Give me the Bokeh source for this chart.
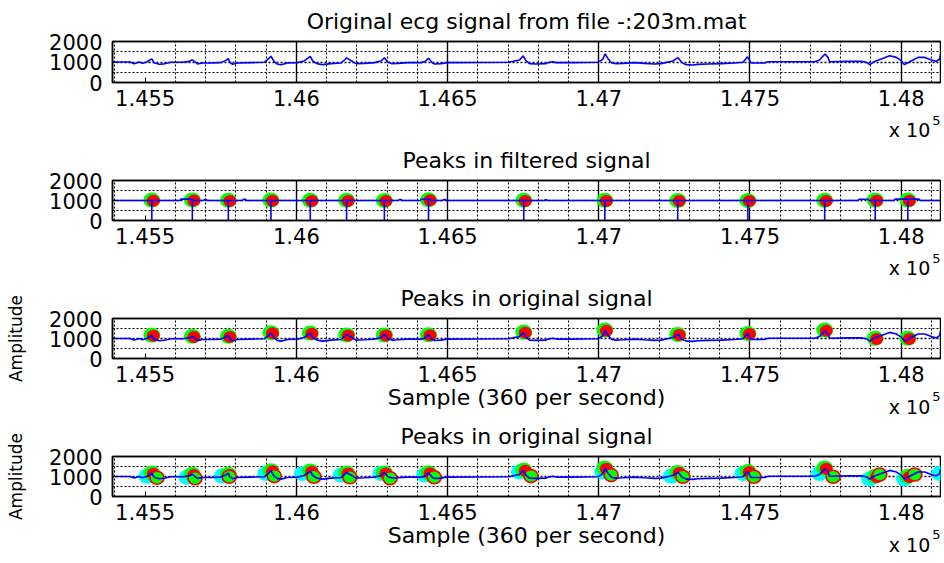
from bokeh.plotting import figure
from bokeh.layouts import column
from bokeh.models import Range1d, FixedTicker, Grid, LinearAxis
from bokeh.embed import file_html
from bokeh.resources import INLINE

# ---------------- data ----------------
x_ticks = [145500, 146000, 146500, 147000, 147500, 148000]
x_tick_labels = ["1.455", "1.46", "1.465", "1.47", "1.475", "1.48"]
y_ticks = [0, 1000, 2000]
y_tick_labels = ["0", "1000", "2000"]
y_minor = [500, 1500]
x_limits = (145392, 148130)
y_limits = (0, 2000)

titles = ["Original ecg signal from file -:203m.mat",
          "Peaks in filtered signal",
          "Peaks in original signal",
          "Peaks in original signal"]
x_label = "Sample (360 per second)"
y_label = "Amplitude"
exp_base = "x 10"
exp_power = "5"

# original ECG signal (sample, amplitude)
ecg_points = [
    (145392, 1000), (145450, 1000), (145464, 920), (145480, 1000), (145491, 940),
    (145505, 1000), (145522, 1150), (145530, 960), (145546, 890), (145563, 910),
    (145585, 985), (145624, 985), (145646, 1030), (145656, 1110), (145673, 905),
    (145690, 950), (145717, 950), (145750, 970), (145767, 1080), (145775, 1170),
    (145779, 1000), (145789, 890), (145806, 950), (145850, 970), (145894, 985),
    (145908, 1160), (145916, 1280), (145925, 1050), (145936, 905), (145949, 870),
    (145971, 950), (146004, 970), (146026, 1050), (146046, 1270), (146054, 1050),
    (146068, 920), (146087, 870), (146114, 920), (146148, 950), (146160, 1110),
    (146166, 1200), (146183, 1050), (146197, 920), (146225, 935), (146258, 970),
    (146280, 1050), (146291, 1210), (146302, 1000), (146316, 920), (146335, 935),
    (146368, 970), (146412, 970), (146425, 1020), (146437, 1180), (146450, 950),
    (146457, 905), (146478, 920), (146492, 955), (146500, 970), (146700, 985),
    (146738, 1100), (146750, 1300), (146760, 1050), (146771, 920), (146793, 905),
    (146826, 920), (146832, 970), (146848, 1015), (146859, 970), (146909, 970),
    (146997, 985), (147013, 1130), (147021, 1400), (147032, 1130), (147043, 950),
    (147058, 920), (147080, 935), (147118, 970), (147151, 935), (147184, 905),
    (147206, 920), (147245, 1050), (147262, 1210), (147275, 970), (147289, 870),
    (147311, 855), (147328, 885), (147361, 905), (147405, 920), (147449, 950),
    (147477, 985), (147492, 1250), (147499, 1065), (147504, 950), (147548, 950),
    (147560, 1015), (147714, 1015), (147730, 1100), (147748, 1390), (147758, 1225),
    (147763, 1015), (147824, 1030), (147868, 1030), (147885, 985), (147896, 870),
    (147912, 1030), (147934, 1145), (147962, 1305), (147984, 1225), (148000, 1065),
    (148011, 870), (148028, 1015), (148056, 1225), (148078, 1225), (148100, 1095),
    (148116, 1030), (148127, 1145), (148130, 1350),
]

# filtered signal (sample, amplitude)
filt_points = [
    (145392, 1000), (145615, 1000), (145618, 1070), (145655, 1070), (145658, 1000),
    (145693, 1000), (145696, 1050), (145702, 1050), (145705, 1000), (145822, 1000),
    (145825, 1060), (145832, 1060), (145835, 1000), (146338, 1000), (146341, 1050),
    (146347, 1050), (146350, 1000), (146410, 1000), (146413, 1060), (146443, 1060),
    (146446, 1000), (146484, 1000), (146487, 1050), (146493, 1050), (146496, 1000),
    (146821, 1000), (146823, 1040), (146828, 1040), (146830, 1000), (147858, 1000),
    (147861, 1060), (147891, 1060), (147894, 1000), (147977, 1000), (147980, 1070),
    (148059, 1070), (148062, 1000), (148130, 1000),
]

# detected R peaks
r_x = [145522, 145656, 145775, 145916, 146046, 146166, 146291, 146437,
       146752, 147020, 147261, 147493, 147747, 147914, 148022]
r_filt_y = [1020, 1030, 1010, 1020, 1010, 1010, 1000, 1040,
            1010, 1010, 1000, 1000, 1010, 1020, 1020]
r_orig_y = [1170, 1110, 1110, 1290, 1270, 1180, 1180, 1190,
            1320, 1420, 1200, 1250, 1420, 1010, 1010]
# Q points (cyan) and S points (green) of the last panel
q_x = [145506, 145638, 145755, 145899, 146020, 146148, 146280, 146424,
       146738, 147013, 147240, 147477, 147730, 147896, 148011, 148127]
q_y = [1020, 960, 1020, 1150, 1150, 1070, 1150, 1080,
       1230, 1230, 1020, 1150, 1150, 880, 880, 1150]
s_x = [145539, 145665, 145778, 145927, 146058, 146177, 146310, 146456,
       146776, 147041, 147278, 147513, 147775, 147929, 148045]
s_y = [940, 915, 990, 1020, 990, 960, 915, 960,
       1020, 1070, 990, 990, 990, 1100, 1100]

ecg_x = [a for a, b in ecg_points]
ecg_y = [b for a, b in ecg_points]
filt_x = [a for a, b in filt_points]
filt_y = [b for a, b in filt_points]

# ---------------- styling / layout ----------------
FONT = "DejaVu Sans"
FW, FH = 828, 41
BL, BR, BB = 112, 1, 62
BLUE = "#0000ff"
RED = "#ff0000"
GREEN = "#00ff00"
CYAN = "#00ffff"

minor_x = [v for v in range(145400, 148200, 100) if v % 500 != 0]
major_grid_x = [t for t in x_ticks if t != x_ticks[0]]
# horizontal anchors (in frame pixels) of texts placed under the frame
XLABEL_POS = FW / 2
EXP_BASE_POS = 797
EXP_POW_POS = 824


def label_axis(text, pos, size, standoff):
    ax = LinearAxis(x_range_name="px", ticker=FixedTicker(ticks=[pos]),
                    major_label_overrides={pos: text},
                    major_label_standoff=standoff, major_tick_in=0, major_tick_out=0,
                    major_tick_line_color=None, minor_tick_line_color=None,
                    axis_line_color=None,
                    major_label_text_font=FONT, major_label_text_font_size=size,
                    major_label_text_color="black")
    return ax


def make_fig(title, bt, with_labels):
    p = figure(width=BL + FW + BR, height=bt + FH + BB, output_backend="svg",
               toolbar_location=None, tools="",
               x_range=Range1d(*x_limits), y_range=Range1d(*y_limits),
               min_border_left=BL, min_border_right=BR,
               min_border_top=bt, min_border_bottom=BB)
    p.extra_x_ranges = {"px": Range1d(0, FW)}
    p.background_fill_color = "white"
    p.border_fill_color = "white"
    p.outline_line_color = "black"
    p.outline_line_width = 1.5

    xax = p.xaxis[0]
    yax = p.yaxis[0]
    xax.ticker = FixedTicker(ticks=x_ticks, minor_ticks=minor_x)
    xax.major_label_overrides = {t: l for t, l in zip(x_ticks, x_tick_labels)}
    yax.ticker = FixedTicker(ticks=y_ticks, minor_ticks=y_minor)
    yax.major_label_overrides = {t: l for t, l in zip(y_ticks, y_tick_labels)}
    for ax in (xax, yax):
        ax.major_tick_in = 5
        ax.major_tick_out = 0
        ax.minor_tick_line_color = None
        ax.axis_line_width = 1.5
        ax.axis_line_color = "black"
        ax.major_tick_line_color = "black"
        ax.major_label_text_font = FONT
        ax.major_label_text_font_size = "21px"
        ax.major_label_text_color = "black"
        ax.axis_label_text_font = FONT
        ax.axis_label_text_font_style = "normal"
        ax.axis_label_text_color = "black"
    xax.major_label_standoff = 3
    yax.major_label_standoff = 6

    # title as the label of a tick-less axis above the frame
    top = LinearAxis(ticker=FixedTicker(ticks=[]), axis_label=title,
                     axis_label_standoff=8, axis_label_text_font=FONT,
                     axis_label_text_font_size="22px", axis_label_text_font_style="normal",
                     axis_label_text_color="black", axis_line_width=1.5,
                     major_tick_line_color=None, minor_tick_line_color=None)
    p.add_layout(top, "above")

    # texts under the frame, stacked: exponent "5", (x label), "x 10"
    p.add_layout(label_axis(exp_power, EXP_POW_POS, "13px", 7), "below")
    if with_labels:
        yax.axis_label = y_label
        yax.axis_label_standoff = 20
        yax.axis_label_text_font_size = "17px"
        p.add_layout(label_axis(x_label, XLABEL_POS, "22px", -19), "below")
        base_standoff = -17
    else:
        base_standoff = -9
    p.add_layout(label_axis(exp_base, EXP_BASE_POS, "19px", base_standoff), "below")

    # grids
    p.xgrid.grid_line_color = None
    p.ygrid.ticker = FixedTicker(ticks=y_ticks, minor_ticks=y_minor)
    p.ygrid.grid_line_color = "black"
    p.ygrid.grid_line_dash = "2 2"
    p.ygrid.grid_line_width = 1.6
    p.ygrid.minor_grid_line_color = "black"
    p.ygrid.minor_grid_line_dash = "2 2"
    p.ygrid.minor_grid_line_width = 1.1
    p.add_layout(Grid(dimension=0, ticker=FixedTicker(ticks=minor_x),
                      grid_line_color="black", grid_line_dash="2 2", grid_line_width=1.1))
    p.add_layout(Grid(dimension=0, ticker=FixedTicker(ticks=major_grid_x),
                      grid_line_color="black", grid_line_width=1.4))
    return p


def r_marker(p, xs, ys):
    p.ellipse(x=xs, y=ys, width=17, height=15, width_units="screen", height_units="screen",
              fill_color=GREEN, line_color=None)
    p.ellipse(x=[v + 5 for v in xs], y=[v - 30 for v in ys], width=13, height=12,
              width_units="screen", height_units="screen", fill_color=RED, line_color=None)


# panel 1
p1 = make_fig(titles[0], 41, False)
p1.line(ecg_x, ecg_y, line_color=BLUE, line_width=1.6)

# panel 2
p2 = make_fig(titles[1], 35, False)
r_marker(p2, r_x, r_filt_y)
p2.segment(x0=r_x, y0=[0] * len(r_x), x1=r_x, y1=r_filt_y, line_color=BLUE, line_width=1.6)
p2.line(filt_x, filt_y, line_color=BLUE, line_width=1.6)

# panel 3
p3 = make_fig(titles[2], 35, True)
r_marker(p3, r_x, r_orig_y)
p3.line(ecg_x, ecg_y, line_color=BLUE, line_width=1.6)

# panel 4
p4 = make_fig(titles[3], 35, True)
p4.ellipse(x=q_x, y=q_y, width=17, height=15, width_units="screen", height_units="screen",
           fill_color=CYAN, line_color=None)
r_marker(p4, r_x, r_orig_y)
p4.ellipse(x=s_x, y=s_y, width=14, height=13, width_units="screen", height_units="screen",
           fill_color=GREEN, line_color=RED, line_width=1.6)
p4.line(ecg_x, ecg_y, line_color=BLUE, line_width=1.6)

layout = column(p1, p2, p3, p4)
open("out.html", "w").write(file_html(layout, INLINE))
